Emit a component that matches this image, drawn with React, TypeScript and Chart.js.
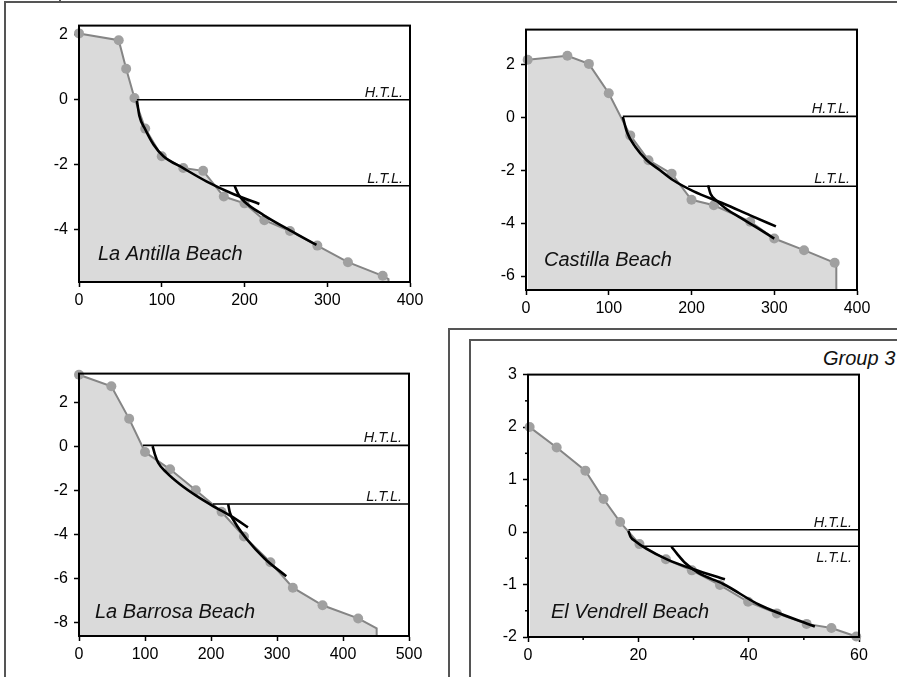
import React, { useEffect, useRef } from "react";
import { Chart, registerables } from "chart.js";
Chart.register(...registerables);

// ---------- data ----------
// La Antilla Beach
const antillaX = [0, 48, 57, 67, 80, 100, 126, 150, 175, 200, 224, 255, 288, 325, 367, 374, 374];
const antillaY = [2.04, 1.83, 0.95, 0.05, -0.89, -1.74, -2.1, -2.19, -2.98, -3.19, -3.71, -4.04, -4.49, -5.0, -5.42, -5.52, -5.61];
const antillaFit1X = [70, 73, 80, 90, 102, 125.5, 154.5, 187, 218];
const antillaFit1Y = [-0.03, -0.5, -0.91, -1.38, -1.74, -2.1, -2.52, -2.91, -3.21];
const antillaFit2X = [188, 193, 200, 223, 255, 287];
const antillaFit2Y = [-2.65, -2.93, -3.14, -3.55, -4.02, -4.47];
const antillaTide = { htlX: 70, htlY: 0, ltlX: 170, ltlY: -2.65 };

// Castilla Beach
const castillaX = [2, 50, 76, 100, 126, 148, 176, 200, 227, 271, 300, 336, 373, 375, 375];
const castillaY = [2.2, 2.35, 2.04, 0.93, -0.67, -1.61, -2.12, -3.11, -3.32, -3.94, -4.58, -5.02, -5.5, -5.56, -6.53];
const castillaFit1X = [117, 122, 132, 146, 162, 178, 202, 239, 271, 302];
const castillaFit1Y = [0.03, -0.54, -1.1, -1.61, -1.99, -2.37, -2.78, -3.26, -3.7, -4.12];
const castillaFit2X = [220, 223, 231, 243, 259, 279, 300];
const castillaFit2Y = [-2.56, -2.88, -3.16, -3.48, -3.79, -4.17, -4.58];
const castillaTide = { htlX: 117, htlY: 0.05, ltlX: 196, ltlY: -2.6 };

// La Barrosa Beach
const barrosaX = [0, 49, 76, 100, 138, 177, 216, 250, 290, 324, 369, 423, 451, 451];
const barrosaY = [3.28, 2.75, 1.27, -0.24, -1.03, -1.98, -2.96, -4.09, -5.26, -6.42, -7.22, -7.82, -8.27, -8.62];
const barrosaFit1X = [111.5, 115, 120, 132.7, 153, 178, 203, 233.6, 256];
const barrosaFit1Y = [0.03, -0.35, -0.73, -1.18, -1.71, -2.24, -2.7, -3.22, -3.67];
const barrosaFit2X = [226, 228.5, 236, 254, 281.5, 314];
const barrosaFit2Y = [-2.61, -2.99, -3.44, -4.2, -5.1, -5.9];
const barrosaTide = { htlX: 97, htlY: 0.06, ltlX: 203, ltlY: -2.61 };

// El Vendrell Beach
const vendrellX = [0.3, 5.2, 10.4, 13.7, 16.7, 20.2, 25, 29.7, 34.8, 39.9, 45.1, 50.5, 55, 59.5];
const vendrellY = [2.0, 1.61, 1.17, 0.63, 0.19, -0.23, -0.52, -0.73, -1.01, -1.33, -1.55, -1.75, -1.83, -1.99];
const vendrellFit1X = [18.2, 18.6, 19.4, 21.5, 25.2, 30, 35.7];
const vendrellFit1Y = [0.02, -0.09, -0.17, -0.32, -0.52, -0.71, -0.9];
const vendrellFit2X = [26, 27, 28.5, 30.9, 35.4, 42, 52];
const vendrellFit2Y = [-0.28, -0.41, -0.59, -0.78, -0.99, -1.39, -1.8];
const vendrellTide = { htlX: 18.2, htlY: 0.044, ltlX: 20.5, ltlY: -0.27 };
const vendrellMinorX = [10, 30, 50];
const vendrellMinorY = [2.5, 1.5, 0.5, -0.5, -1.5];

// ticks
const ticks400 = [0, 100, 200, 300, 400];
const ticks500 = [0, 100, 200, 300, 400, 500];
const ticks60 = [0, 20, 40, 60];
const antillaYTicks = [-4, -2, 0, 2];
const castillaYTicks = [-6, -4, -2, 0, 2];
const barrosaYTicks = [-8, -6, -4, -2, 0, 2];
const vendrellYTicks = [-2, -1, 0, 1, 2, 3];

const names = ["La Antilla Beach", "Castilla Beach", "La Barrosa Beach", "El Vendrell Beach"];

// ---------- layout ----------
const FONT = '"Liberation Sans", Arial, Helvetica, sans-serif';
const PAD_L = 45, PAD_T = 14, PAD_R = 22, PAD_B = 30;

type Panel = {
  box: [number, number, number, number];
  x: number[]; y: number[]; tail: number;
  f1x: number[]; f1y: number[]; f2x: number[]; f2y: number[];
  tide: { htlX: number; htlY: number; ltlX: number; ltlY: number };
  xMin: number; xMax: number; yMin: number; yMax: number;
  xTicks: number[]; yTicks: number[];
  name: string; nameDx: number; nameDy: number;
  ltlBelow: boolean;
  minorX?: number[]; minorY?: number[];
};

const panels: Panel[] = [
  {
    box: [79, 24, 410, 282], x: antillaX, y: antillaY, tail: 2,
    f1x: antillaFit1X, f1y: antillaFit1Y, f2x: antillaFit2X, f2y: antillaFit2Y,
    tide: antillaTide, xMin: 0, xMax: 400, yMin: -5.61, yMax: 2.28,
    xTicks: ticks400, yTicks: antillaYTicks, name: names[0], nameDx: 19, nameDy: 22, ltlBelow: false,
  },
  {
    box: [526, 28, 857, 290], x: castillaX, y: castillaY, tail: 2,
    f1x: castillaFit1X, f1y: castillaFit1Y, f2x: castillaFit2X, f2y: castillaFit2Y,
    tide: castillaTide, xMin: 0, xMax: 400, yMin: -6.53, yMax: 3.34,
    xTicks: ticks400, yTicks: castillaYTicks, name: names[1], nameDx: 18, nameDy: 24, ltlBelow: false,
  },
  {
    box: [79, 372, 409, 636], x: barrosaX, y: barrosaY, tail: 2,
    f1x: barrosaFit1X, f1y: barrosaFit1Y, f2x: barrosaFit2X, f2y: barrosaFit2Y,
    tide: barrosaTide, xMin: 0, xMax: 500, yMin: -8.62, yMax: 3.33,
    xTicks: ticks500, yTicks: barrosaYTicks, name: names[2], nameDx: 16, nameDy: 18, ltlBelow: false,
  },
  {
    box: [528, 373, 859, 637], x: vendrellX, y: vendrellY, tail: 0,
    f1x: vendrellFit1X, f1y: vendrellFit1Y, f2x: vendrellFit2X, f2y: vendrellFit2Y,
    tide: vendrellTide, xMin: 0, xMax: 60, yMin: -2, yMax: 3,
    xTicks: ticks60, yTicks: vendrellYTicks, name: names[3], nameDx: 23, nameDy: 19, ltlBelow: true,
    minorX: vendrellMinorX, minorY: vendrellMinorY,
  },
];

const pts = (xs: number[], ys: number[]) => xs.map((v, i) => ({ x: v, y: ys[i] }));

function makeChart(canvas: HTMLCanvasElement, p: Panel) {
  const n = p.x.length;
  const decor = {
    id: "decor",
    afterDatasetsDraw(chart: any) {
      const { ctx, chartArea: a, scales } = chart;
      const xs = scales.x, ys = scales.y;
      ctx.save();
      ctx.strokeStyle = "#000";
      ctx.lineWidth = 2;
      ctx.strokeRect(a.left, a.top, a.right - a.left, a.bottom - a.top);
      // minor ticks
      ctx.lineWidth = 1.5;
      (p.minorX || []).forEach((v) => {
        const px = xs.getPixelForValue(v);
        ctx.beginPath(); ctx.moveTo(px, a.bottom); ctx.lineTo(px, a.bottom + 3); ctx.stroke();
      });
      (p.minorY || []).forEach((v) => {
        const py = ys.getPixelForValue(v);
        ctx.beginPath(); ctx.moveTo(a.left, py); ctx.lineTo(a.left - 3, py); ctx.stroke();
      });
      // labels
      ctx.fillStyle = "#111";
      ctx.font = `italic 14.5px ${FONT}`;
      ctx.textAlign = "right";
      ctx.textBaseline = "alphabetic";
      const hy = ys.getPixelForValue(p.tide.htlY);
      const ly = ys.getPixelForValue(p.tide.ltlY);
      ctx.fillText("H.T.L.", a.right - 7, hy - 3);
      ctx.fillText("L.T.L.", a.right - 7, p.ltlBelow ? ly + 16 : ly - 3);
      ctx.font = `italic 20px ${FONT}`;
      ctx.textAlign = "left";
      ctx.fillText(p.name, a.left + p.nameDx, a.bottom - p.nameDy);
      ctx.restore();
    },
  };
  const fitStyle = {
    showLine: true, borderColor: "#000", borderWidth: 2.6, pointRadius: 0,
    cubicInterpolationMode: "monotone" as const, fill: false,
  };
  const tideStyle = { showLine: true, borderColor: "#000", borderWidth: 1.6, pointRadius: 0, fill: false };
  const axisCommon = (ticksArr: number[], isX: boolean) => ({
    type: "linear" as const,
    afterBuildTicks: (s: any) => { s.ticks = ticksArr.map((v) => ({ value: v })); },
    afterFit: (s: any) => { if (isX) s.height = PAD_B; else s.width = PAD_L; },
    grid: { drawOnChartArea: false, drawTicks: true, tickLength: 5, tickWidth: 1.5, tickColor: "#000" },
    border: { display: true, color: "#000", width: 2 },
    ticks: {
      color: "#000", font: { family: FONT, size: 16 }, padding: isX ? 4 : 6,
      maxRotation: 0, autoSkip: false,
    },
  });
  return new Chart(canvas, {
    type: "scatter",
    data: {
      datasets: [
        { ...fitStyle, data: pts(p.f1x, p.f1y) },
        { ...fitStyle, data: pts(p.f2x, p.f2y) },
        { ...tideStyle, data: [{ x: p.tide.htlX, y: p.tide.htlY }, { x: p.xMax, y: p.tide.htlY }] },
        { ...tideStyle, data: [{ x: p.tide.ltlX, y: p.tide.ltlY }, { x: p.xMax, y: p.tide.ltlY }] },
        {
          data: pts(p.x, p.y), showLine: true, borderColor: "#858585", borderWidth: 2,
          backgroundColor: "#dadada", fill: "start",
          pointRadius: (c: any) => (c.dataIndex < n - p.tail ? 5 : 0),
          pointBackgroundColor: "#a0a0a0", pointBorderWidth: 0, clip: false,
        } as any,
      ],
    },
    options: {
      animation: false, responsive: false, devicePixelRatio: 1,
      layout: { padding: { left: 0, top: PAD_T, right: PAD_R, bottom: 0 } },
      plugins: { legend: { display: false }, tooltip: { enabled: false } },
      scales: {
        x: { ...axisCommon(p.xTicks, true), min: p.xMin, max: p.xMax },
        y: { ...axisCommon(p.yTicks, false), min: p.yMin, max: p.yMax },
      },
    } as any,
    plugins: [decor],
  });
}

function PanelChart({ p }: { p: Panel }) {
  const ref = useRef<HTMLCanvasElement | null>(null);
  const [l, t, r, b] = p.box;
  const w = r - l + PAD_L + PAD_R;
  const h = b - t + PAD_T + PAD_B;
  useEffect(() => {
    const c = makeChart(ref.current as HTMLCanvasElement, p);
    return () => c.destroy();
  }, [p]);
  return (
    <canvas
      ref={ref}
      width={w}
      height={h}
      style={{ position: "absolute", left: l - PAD_L, top: t - PAD_T, width: w, height: h }}
    />
  );
}

const line = "2px solid #555";

export default function App() {
  return (
    <div style={{ position: "absolute", left: 0, top: 0, width: 897, height: 677, overflow: "hidden", background: "#fff" }}>
      <div style={{ position: "absolute", left: 4, top: 1, width: 1000, height: 1000, borderLeft: line, borderTop: line }} />
      <div style={{ position: "absolute", left: 59, top: 0, width: 2, height: 3, background: "#555" }} />
      <div style={{ position: "absolute", left: 448, top: 328, width: 1000, height: 1000, borderLeft: line, borderTop: line }} />
      <div style={{ position: "absolute", left: 469, top: 339, width: 1000, height: 1000, borderLeft: line, borderTop: line }} />
      <div style={{ position: "absolute", left: 823, top: 349, fontFamily: FONT, fontStyle: "italic", fontSize: 20, lineHeight: "19px", color: "#111", whiteSpace: "nowrap" }}>
        Group 3
      </div>
      {panels.map((p, i) => (
        <PanelChart key={i} p={p} />
      ))}
    </div>
  );
}
